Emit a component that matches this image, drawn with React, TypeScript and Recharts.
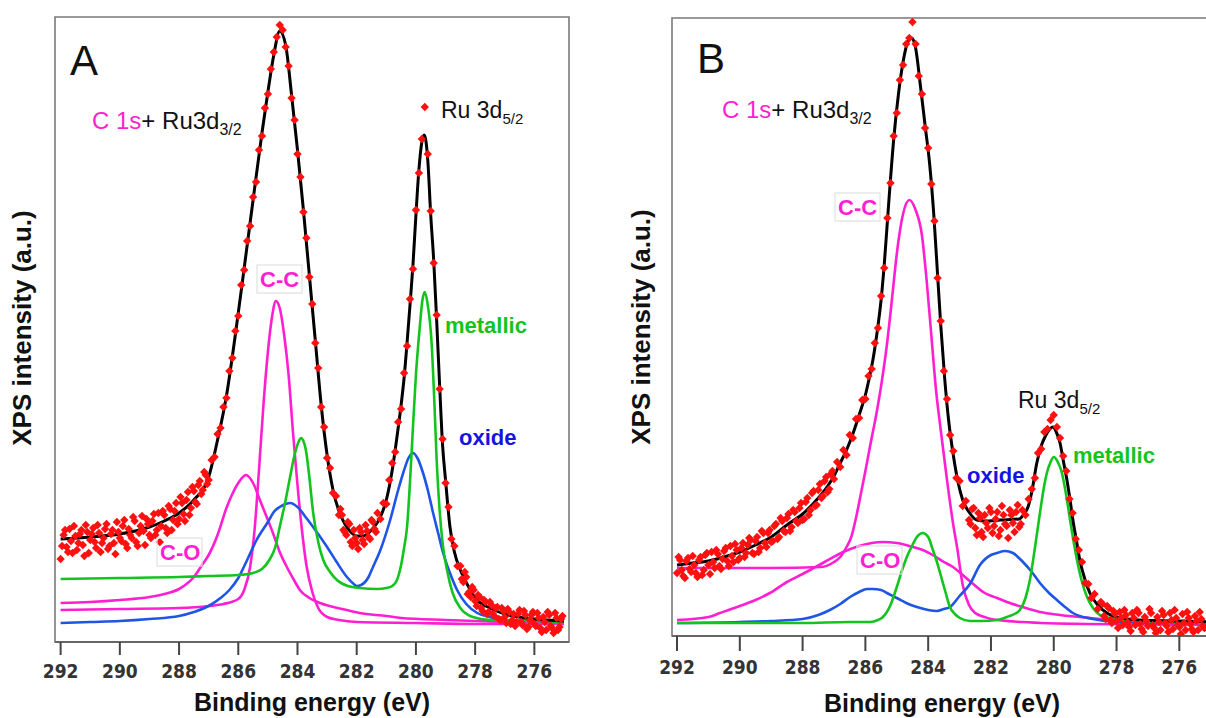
import React from 'react';
import {
  ComposedChart, Line, Scatter, XAxis, YAxis, ReferenceArea,
} from 'recharts';

// energies in eV, intensities in arbitrary units
const ticks = [292, 290, 288, 286, 284, 282, 280, 278, 276];

// ---------- panel A ----------
const rawA: [number, number][] = [
  [292.0, 83], [291.9, 107], [291.8, 95], [291.7, 113], [291.6, 89], [291.5, 106], [291.4, 99], [291.3, 112], [291.2, 86], [291.1, 110],
  [291.0, 102], [290.9, 114], [290.8, 94], [290.7, 109], [290.6, 99], [290.5, 113], [290.4, 93], [290.3, 108], [290.2, 99], [290.1, 120],
  [290.0, 104], [289.9, 116], [289.8, 98], [289.7, 113], [289.6, 104], [289.5, 121], [289.4, 96], [289.3, 116], [289.2, 111], [289.1, 123],
  [289.0, 107], [288.9, 121], [288.8, 107], [288.7, 129], [288.6, 116], [288.5, 127], [288.4, 109], [288.3, 133], [288.2, 122], [288.1, 139],
  [288.0, 123], [287.9, 139], [287.8, 121], [287.7, 150], [287.6, 134], [287.5, 151], [287.4, 138], [287.3, 161], [287.2, 152], [287.1, 167],
  [287.0, 162], [286.9, 182], [286.8, 185], [286.7, 208], [286.6, 214], [286.5, 235], [286.4, 244], [286.3, 271], [286.2, 284], [286.1, 311],
  [286.0, 326], [285.9, 357], [285.8, 372], [285.7, 401], [285.6, 416], [285.5, 445], [285.4, 460], [285.3, 492], [285.2, 506], [285.1, 534],
  [285.0, 548], [284.9, 573], [284.8, 590], [284.7, 605], [284.6, 617], [284.5, 612], [284.4, 595], [284.3, 576], [284.2, 544], [284.1, 522],
  [284.0, 488], [283.9, 465], [283.8, 430], [283.7, 404], [283.6, 365], [283.5, 338], [283.4, 299], [283.3, 274], [283.2, 235], [283.1, 215],
  [283.0, 184], [282.9, 174], [282.8, 149], [282.7, 146], [282.6, 127], [282.5, 127], [282.4, 110], [282.3, 120], [282.2, 100], [282.1, 112],
  [282.0, 99], [281.9, 114], [281.8, 102], [281.7, 117], [281.6, 105], [281.5, 122], [281.4, 113], [281.3, 129], [281.2, 123], [281.1, 139],
  [281.0, 138], [280.9, 162], [280.8, 179], [280.7, 190], [280.6, 220], [280.5, 233], [280.4, 269], [280.3, 296], [280.2, 343], [280.1, 373],
  [280.0, 432], [279.9, 469], [279.8, 503], [279.7, 535], [279.6, 488], [279.5, 431], [279.4, 379], [279.3, 327], [279.2, 253], [279.1, 203],
  [279.0, 159], [278.9, 135], [278.8, 103], [278.7, 96], [278.6, 76], [278.5, 76], [278.4, 60], [278.3, 65], [278.2, 50], [278.1, 55],
  [278.0, 41], [277.9, 47], [277.8, 34], [277.7, 42], [277.6, 28], [277.5, 40], [277.4, 28], [277.3, 34], [277.2, 23], [277.1, 34],
  [277.0, 25], [276.9, 33], [276.8, 18], [276.7, 28], [276.6, 20], [276.5, 32], [276.4, 17], [276.3, 27], [276.2, 15], [276.1, 27],
  [276.0, 18], [275.9, 29], [275.8, 14], [275.7, 25], [275.6, 12], [275.5, 27], [275.4, 14], [275.3, 29], [275.2, 12], [275.1, 23],
];

// extra readings in the noisy flat parts
const rawA2: [number, number][] = [
  [291.95, 96], [291.85, 112], [291.75, 90], [291.65, 101], [291.55, 116], [291.45, 92], [291.35, 108], [291.25, 97], [291.15, 117], [291.05, 89],
  [290.95, 108], [290.85, 100], [290.75, 117], [290.65, 90], [290.55, 104], [290.45, 118], [290.35, 96], [290.25, 112], [290.15, 88], [290.05, 110],
  [289.95, 101], [289.85, 122], [289.75, 94], [289.65, 107], [289.55, 125], [289.45, 100], [289.35, 109], [289.25, 126], [289.15, 97], [289.05, 118],
  [288.95, 104], [288.85, 128], [288.75, 112], [288.65, 100], [288.55, 131], [288.45, 114], [288.35, 136], [288.25, 112], [288.15, 131], [288.05, 118],
  [287.95, 145], [287.85, 128], [287.75, 142], [287.65, 127], [287.55, 155], [287.45, 140], [287.35, 157], [287.25, 148], [287.15, 170], [287.05, 158],
  [282.55, 133], [282.45, 112], [282.35, 107], [282.25, 118], [282.15, 96], [282.05, 104], [281.95, 93], [281.85, 110], [281.75, 98], [281.65, 111],
  [281.55, 103], [281.45, 120], [281.35, 110],
  [278.45, 63], [278.35, 70], [278.25, 48], [278.15, 45], [278.05, 52], [277.95, 36], [277.85, 45], [277.75, 31], [277.65, 40], [277.55, 30],
  [277.45, 37], [277.35, 26], [277.25, 35], [277.15, 22], [277.05, 31], [276.95, 19], [276.85, 30], [276.75, 22], [276.65, 16], [276.55, 28],
  [276.45, 20], [276.35, 31], [276.25, 13], [276.15, 22], [276.05, 30], [275.95, 16], [275.85, 24], [275.75, 10], [275.65, 20], [275.55, 30],
  [275.45, 16], [275.35, 9], [275.25, 24], [275.15, 15], [275.05, 26],
];

const fitA: [number, number][] = [
  [292.0, 103], [291.0, 105], [290.0, 108], [289.0, 115], [288.5, 121], [288.0, 129], [287.5, 142], [287.0, 165], [286.7, 202], [286.4, 246],
  [286.1, 307], [285.8, 374], [285.5, 442], [285.2, 509], [285.0, 550], [284.8, 587], [284.6, 611], [284.4, 597], [284.2, 547], [284.0, 492],
  [283.8, 432], [283.6, 367], [283.4, 302], [283.2, 237], [283.0, 187], [282.8, 152], [282.6, 131], [282.4, 118], [282.2, 110], [282.0, 106],
  [281.8, 106], [281.5, 112], [281.2, 125], [281.0, 142], [280.8, 172], [280.6, 214], [280.5, 237], [280.4, 264], [280.3, 299], [280.2, 337],
  [280.1, 377], [280.0, 427], [279.9, 472], [279.8, 500], [279.72, 507], [279.6, 482], [279.5, 427], [279.4, 382], [279.3, 322], [279.2, 257],
  [279.1, 197], [279.0, 162], [278.85, 115], [278.7, 90], [278.5, 72], [278.2, 54], [278.0, 44], [277.5, 34], [277.0, 28], [276.0, 23], [275.0, 21],
];

const ccA: [number, number][] = [
  [292, 32], [290, 33], [288, 34], [287, 36], [286.5, 38], [286.0, 43], [285.8, 52], [285.6, 75], [285.45, 112], [285.3, 172],
  [285.15, 237], [285.0, 290], [284.85, 327], [284.73, 341], [284.6, 334], [284.45, 307], [284.3, 267], [284.15, 209], [284.0, 157], [283.85, 112],
  [283.7, 77], [283.5, 50], [283.3, 34], [283.0, 25], [282.6, 22], [282.0, 20], [280.0, 19], [278.0, 18], [275.0, 18],
];

const coA: [number, number][] = [
  [292, 39], [291, 40], [290, 42], [289, 45], [288.5, 48], [288, 53], [287.5, 65], [287.2, 78], [287.0, 87], [286.7, 107],
  [286.4, 134], [286.2, 148], [286.0, 159], [285.74, 167], [285.5, 159], [285.27, 142], [285.0, 122], [284.83, 109], [284.6, 90], [284.36, 75],
  [284.1, 61], [283.92, 52], [283.6, 44], [283.24, 39], [282.5, 33], [281.9, 29], [281, 26], [280.5, 24], [279, 22], [277, 20], [275, 19],
];

const metalA: [number, number][] = [
  [292, 63], [290, 64], [288, 65], [287, 66], [286, 67], [285.5, 69], [285.2, 73], [284.95, 82], [284.75, 95], [284.6, 115],
  [284.4, 142], [284.25, 165], [284.1, 187], [283.95, 201], [283.88, 204], [283.8, 201], [283.7, 189], [283.6, 165], [283.47, 129], [283.3, 100],
  [283.13, 82], [282.9, 70], [282.67, 62], [282.3, 56], [281.9, 54], [281.3, 53], [281.0, 54], [280.8, 56], [280.64, 62], [280.5, 77],
  [280.4, 94], [280.3, 115], [280.2, 160], [280.1, 215], [280.0, 267], [279.87, 315], [279.78, 342], [279.7, 350], [279.6, 337], [279.47, 299],
  [279.38, 242], [279.3, 182], [279.2, 132], [279.1, 99], [278.95, 72], [278.76, 49], [278.5, 34], [278.08, 25], [277.5, 22], [276, 21], [275, 20],
];

const oxideA: [number, number][] = [
  [292, 19], [291, 20], [290, 21], [289, 23], [288, 26], [287.5, 30], [287, 36], [286.6, 44], [286.3, 52], [286.0, 64],
  [285.7, 82], [285.4, 101], [285.0, 120], [284.8, 130], [284.6, 135], [284.4, 138], [284.25, 139], [284.0, 135], [283.7, 124], [283.4, 112],
  [283.0, 95], [282.7, 81], [282.33, 65], [282.1, 58], [282.0, 56], [281.85, 57], [281.6, 65], [281.45, 75], [281.2, 92], [280.87, 122],
  [280.6, 152], [280.43, 169], [280.25, 184], [280.1, 189], [279.95, 184], [279.76, 169], [279.6, 152], [279.42, 129], [279.25, 109], [279.08, 89],
  [278.85, 69], [278.61, 52], [278.3, 38], [277.93, 29], [277.5, 25], [277.16, 22], [276, 21], [275, 20],
];

// ---------- panel B ----------
const rawB: [number, number][] = [
  [292.0, 63], [291.9, 76], [291.8, 60], [291.7, 75], [291.6, 67], [291.5, 80], [291.4, 63], [291.3, 76], [291.2, 61], [291.1, 81],
  [291.0, 71], [290.9, 84], [290.8, 68], [290.7, 82], [290.6, 67], [290.5, 85], [290.4, 75], [290.3, 90], [290.2, 74], [290.1, 86],
  [290.0, 78], [289.9, 93], [289.8, 83], [289.7, 98], [289.6, 83], [289.5, 95], [289.4, 84], [289.3, 105], [289.2, 93], [289.1, 103],
  [289.0, 94], [288.9, 110], [288.8, 97], [288.7, 118], [288.6, 105], [288.5, 118], [288.4, 105], [288.3, 126], [288.2, 115], [288.1, 128],
  [288.0, 116], [287.9, 134], [287.8, 121], [287.7, 143], [287.6, 130], [287.5, 146], [287.4, 138], [287.3, 155], [287.2, 144], [287.1, 162],
  [287.0, 157], [286.9, 174], [286.8, 169], [286.7, 186], [286.6, 181], [286.5, 201], [286.4, 198], [286.3, 217], [286.2, 218], [286.1, 236],
  [286.0, 237], [285.9, 260], [285.8, 267], [285.7, 293], [285.6, 308], [285.5, 340], [285.4, 368], [285.3, 418], [285.2, 453], [285.1, 500],
  [285.0, 523], [284.9, 556], [284.8, 571], [284.7, 592], [284.6, 598], [284.5, 614], [284.4, 592], [284.3, 560], [284.2, 542], [284.1, 508],
  [284.0, 488], [283.9, 452], [283.8, 415], [283.7, 358], [283.6, 315], [283.5, 265], [283.4, 237], [283.3, 201], [283.2, 185], [283.1, 158],
  [283.0, 155], [282.9, 130], [282.8, 135], [282.7, 116], [282.6, 127], [282.5, 108], [282.4, 123], [282.3, 104], [282.2, 121], [282.1, 108],
  [282.0, 124], [281.9, 110], [281.8, 124], [281.7, 106], [281.6, 121], [281.5, 110], [281.4, 126], [281.3, 113], [281.2, 124], [281.1, 109],
  [281.0, 126], [280.9, 121], [280.8, 137], [280.7, 147], [280.6, 158], [280.5, 183], [280.4, 187], [280.3, 204], [280.2, 207], [280.1, 216],
  [280.0, 221], [279.9, 209], [279.8, 198], [279.7, 180], [279.6, 165], [279.5, 137], [279.4, 123], [279.3, 97], [279.2, 86], [279.1, 74],
  [279.0, 53], [278.9, 52], [278.8, 38], [278.7, 42], [278.6, 27], [278.5, 34], [278.4, 20], [278.3, 30], [278.2, 16], [278.1, 25],
  [278.0, 15], [277.9, 24], [277.8, 11], [277.7, 21], [277.6, 9], [277.5, 23], [277.4, 11], [277.3, 23], [277.2, 7], [277.1, 19],
  [277.0, 10], [276.9, 23], [276.8, 8], [276.7, 19], [276.6, 6], [276.5, 21], [276.4, 10], [276.3, 23], [276.2, 7], [276.1, 18],
  [276.0, 9], [275.9, 22], [275.8, 6], [275.7, 18], [275.6, 7], [275.5, 20], [275.4, 6], [275.3, 17], [275.2, 8],
];

const rawB2: [number, number][] = [
  [291.95, 79], [291.85, 66], [291.75, 58], [291.65, 78], [291.55, 64], [291.45, 71], [291.35, 59], [291.25, 79], [291.15, 66], [291.05, 83],
  [290.95, 62], [290.85, 74], [290.75, 86], [290.65, 70], [290.55, 77], [290.45, 88], [290.35, 70], [290.25, 80], [290.15, 92], [290.05, 76],
  [289.95, 88], [289.85, 79], [289.75, 91], [289.65, 96], [289.55, 82], [289.45, 99], [289.35, 88], [289.25, 103], [289.15, 89], [289.05, 106],
  [288.95, 95], [288.85, 112], [288.75, 99], [288.65, 115], [288.55, 104], [288.45, 122], [288.35, 109], [288.25, 124], [288.15, 113], [288.05, 133],
  [287.95, 117], [287.85, 138], [287.75, 126], [287.65, 145], [287.55, 131], [287.45, 152], [287.35, 140], [287.25, 159], [287.15, 147], [287.05, 165],
  [282.65, 112], [282.55, 128], [282.45, 101], [282.35, 118], [282.25, 99], [282.15, 113], [282.05, 128], [281.95, 103], [281.85, 117], [281.75, 100],
  [281.65, 130], [281.55, 112], [281.45, 98], [281.35, 121], [281.25, 104], [281.15, 131], [281.05, 112],
  [278.45, 32], [278.35, 17], [278.25, 28], [278.15, 13], [278.05, 22], [277.95, 8], [277.85, 18], [277.75, 26], [277.65, 14], [277.55, 5],
  [277.45, 18], [277.35, 26], [277.25, 12], [277.15, 4], [277.05, 15], [276.95, 27], [276.85, 11], [276.75, 3], [276.65, 14], [276.55, 25],
  [276.45, 13], [276.35, 4], [276.25, 16], [276.15, 26], [276.05, 11], [275.95, 2], [275.85, 13], [275.75, 24], [275.65, 12], [275.55, 4],
  [275.45, 15], [275.35, 24], [275.25, 10],
];

const fitB: [number, number][] = [
  [292, 71], [291.5, 73], [291, 75], [290.5, 79], [290, 84], [289.5, 91], [289, 99], [288.5, 111], [288, 122], [287.5, 138],
  [287.2, 150], [287, 160], [286.8, 173], [286.6, 186], [286.4, 202], [286.2, 221], [286.0, 241], [285.89, 256], [285.75, 278], [285.63, 303],
  [285.5, 336], [285.4, 371], [285.25, 436], [285.1, 496], [284.95, 541], [284.8, 574], [284.65, 594], [284.52, 598], [284.4, 588], [284.25, 551],
  [284.1, 511], [283.95, 471], [283.82, 421], [283.7, 361], [283.6, 311], [283.47, 256], [283.35, 216], [283.2, 181], [283.05, 154], [282.9, 136],
  [282.7, 124], [282.45, 116], [282.2, 115], [281.7, 116], [281.1, 117], [280.95, 122], [280.82, 129], [280.7, 144], [280.54, 173], [280.4, 190],
  [280.28, 199], [280.15, 206], [280.03, 209], [279.92, 204], [279.8, 193], [279.7, 176], [279.58, 156], [279.48, 136], [279.39, 116], [279.28, 96],
  [279.17, 76], [279.0, 56], [278.85, 43], [278.6, 31], [278.31, 23], [278.0, 19], [277.3, 16], [276, 15], [275, 14],
];

const ccB: [number, number][] = [
  [292, 68], [289, 68], [287.4, 69], [287.0, 74], [286.8, 79], [286.6, 89], [286.45, 99], [286.3, 118], [286.17, 138], [286.0, 165],
  [285.85, 190], [285.65, 222], [285.47, 256], [285.3, 295], [285.2, 323], [285.1, 353], [285.0, 382], [284.9, 405], [284.8, 422], [284.6, 436],
  [284.4, 426], [284.2, 401], [284.05, 356], [283.9, 301], [283.75, 246], [283.6, 206], [283.4, 156], [283.2, 111], [283.08, 89], [282.9, 51],
  [282.7, 31], [282.5, 23], [282.2, 19], [282.0, 17], [281.0, 14], [279.0, 12], [275.0, 11],
];

const coB: [number, number][] = [
  [292, 16], [291, 19], [290.63, 23], [290, 30], [289.5, 36], [289.04, 43], [288.5, 54], [288, 62], [287.76, 66], [287.3, 74],
  [286.71, 84], [286.2, 90], [285.8, 93], [285.44, 94], [285.0, 93], [284.6, 90], [284.17, 86], [283.8, 80], [283.5, 74], [283.21, 69],
  [282.9, 61], [282.6, 53], [282.2, 43], [281.8, 38], [281.49, 34], [281.0, 29], [280.44, 24], [279.8, 21], [278.85, 18], [278, 16],
  [277, 15], [276, 14], [275, 13],
];

const metalB: [number, number][] = [
  [292, 13], [288, 13], [286.5, 14], [285.85, 14], [285.6, 16], [285.44, 19], [285.2, 31], [285.0, 49], [284.85, 64], [284.68, 79],
  [284.5, 91], [284.36, 99], [284.17, 103], [284.0, 99], [283.85, 86], [283.72, 74], [283.62, 63], [283.45, 44], [283.31, 29], [283.15, 22],
  [282.99, 18], [282.67, 15], [282.3, 15], [281.8, 16], [281.49, 19], [281.25, 22], [281.08, 26], [280.9, 38], [280.76, 56], [280.6, 88],
  [280.44, 123], [280.3, 151], [280.22, 163], [280.1, 174], [280.0, 179], [279.87, 174], [279.74, 163], [279.6, 140], [279.48, 116], [279.36, 93],
  [279.26, 76], [279.1, 54], [278.94, 39], [278.75, 28], [278.53, 21], [278.2, 18], [277.8, 16], [276.5, 14], [275, 13],
];

const oxideB: [number, number][] = [
  [292, 13], [290, 14], [289, 15], [288, 17], [287.5, 21], [287.13, 26], [286.8, 32], [286.49, 39], [286.2, 44], [285.95, 47],
  [285.76, 47], [285.5, 46], [285.25, 42], [285.0, 38], [284.7, 33], [284.36, 29], [284.0, 26], [283.72, 25], [283.5, 27], [283.3, 29],
  [283.0, 40], [282.67, 52], [282.35, 71], [282.0, 81], [281.81, 83], [281.55, 85], [281.3, 83], [280.98, 74], [280.7, 64], [280.44, 53],
  [280.15, 43], [279.9, 36], [279.6, 28], [279.39, 23], [278.75, 17], [278, 14], [276, 13], [275, 13],
];

const MAGENTA = '#ff1fd2';
const GREEN = '#14c41e';
const BLUE = '#1f55e6';
const RED = '#ff1010';

const pts = (rows: [number, number][]) => rows.map(([e, i]) => ({ e, i }));

function Diamond(props: any) {
  const { cx, cy } = props;
  if (cx == null || cy == null) return null;
  const r = 4.2;
  return (
    <polygon
      points={`${cx},${cy - r} ${cx + r},${cy} ${cx},${cy + r} ${cx - r},${cy}`}
      fill={RED}
    />
  );
}

const tickStyle = {
  fill: '#333',
  fontSize: 19,
  fontWeight: 700,
  fontFamily: '"Liberation Sans Narrow", "DejaVu Sans Condensed", "Arial Narrow", sans-serif',
};

interface PanelProps {
  width: number;
  margin: { top: number; right: number; bottom: number; left: number };
  domain: [number, number];
  yMax: number;
  tickSize: number;
  raw: [number, number][];
  raw2: [number, number][];
  fit: [number, number][];
  cc: [number, number][];
  co: [number, number][];
  metal: [number, number][];
  oxide: [number, number][];
}

function Panel(p: PanelProps) {
  const comp = (rows: [number, number][], color: string, key: string) => (
    <Line
      key={key}
      data={pts(rows)}
      dataKey="i"
      type="monotone"
      stroke={color}
      strokeWidth={2.6}
      dot={false}
      activeDot={false}
      isAnimationActive={false}
    />
  );
  return (
    <ComposedChart width={p.width} height={718} margin={p.margin}>
      <XAxis
        type="number"
        dataKey="e"
        domain={p.domain}
        reversed
        allowDataOverflow
        ticks={ticks}
        interval={0}
        height={40}
        tickSize={p.tickSize}
        tickMargin={10}
        tick={tickStyle}
        tickLine={{ stroke: '#444', strokeWidth: 2 }}
        axisLine={{ stroke: '#666', strokeWidth: 2 }}
      />
      <YAxis hide type="number" dataKey="i" domain={[0, p.yMax]} allowDataOverflow />
      <ReferenceArea
        x1={p.domain[0]}
        x2={p.domain[1]}
        y1={0}
        y2={p.yMax}
        fill="none"
        fillOpacity={0}
        stroke="#7a7a7a"
        strokeWidth={1.6}
      />
      {comp(p.co, MAGENTA, 'co')}
      {comp(p.cc, MAGENTA, 'cc')}
      {comp(p.oxide, BLUE, 'ox')}
      {comp(p.metal, GREEN, 'mt')}
      <Scatter data={pts(p.raw)} dataKey="i" shape={Diamond} isAnimationActive={false} />
      <Scatter data={pts(p.raw2)} dataKey="i" shape={Diamond} isAnimationActive={false} />
      <Line
        data={pts(p.fit)}
        dataKey="i"
        type="monotone"
        stroke="#000"
        strokeWidth={3}
        dot={false}
        activeDot={false}
        isAnimationActive={false}
      />
    </ComposedChart>
  );
}

const SANS = '"Liberation Sans", Arial, sans-serif';

function Sub({ x, y, main, sub, color = '#111', fs = 23 }: { x: number; y: number; main: string; sub: string; color?: string; fs?: number }) {
  return (
    <text x={x} y={y} fontSize={fs} fill={color} fontFamily={SANS}>
      {main}
      <tspan fontSize={15} dy={6}>{sub}</tspan>
    </text>
  );
}

function C1s({ x, y }: { x: number; y: number }) {
  return (
    <text x={x} y={y} fontSize={24} fontFamily={SANS} fill="#111">
      <tspan fill={MAGENTA}>C 1s</tspan>
      <tspan>+ Ru3d</tspan>
      <tspan fontSize={16} dy={6}>3/2</tspan>
    </text>
  );
}

function Tag({ x, y, text, color, box }: { x: number; y: number; text: string; color: string; box?: boolean }) {
  return (
    <g>
      {box && (
        <rect x={x - 3} y={y - 22} width={text.length * 14 + 3} height={28} fill="none" stroke="#e2e2e2" strokeWidth={1.2} />
      )}
      <text x={x} y={y} fontSize={22} fontWeight={700} fill={color} fontFamily={SANS}>{text}</text>
    </g>
  );
}

export default function App() {
  return (
    <div style={{ position: 'absolute', left: 0, top: 0, width: 1206, height: 718, overflow: 'hidden', background: '#fff' }}>
      <div style={{ position: 'absolute', left: 0, top: 0 }}>
        <Panel
          width={600}
          margin={{ top: 17, right: 31, bottom: 36, left: 55 }}
          domain={[274.83, 292.19]}
          yMax={625}
          tickSize={13}
          raw={rawA}
          raw2={rawA2}
          fit={fitA}
          cc={ccA}
          co={coA}
          metal={metalA}
          oxide={oxideA}
        />
      </div>
      <div style={{ position: 'absolute', left: 600, top: 0 }}>
        <Panel
          width={640}
          margin={{ top: 18, right: 23, bottom: 42, left: 72 }}
          domain={[274.8, 292.16]}
          yMax={618}
          tickSize={15}
          raw={rawB}
          raw2={rawB2}
          fit={fitB}
          cc={ccB}
          co={coB}
          metal={metalB}
          oxide={oxideB}
        />
      </div>
      <svg
        width={1206}
        height={718}
        style={{ position: 'absolute', left: 0, top: 0, pointerEvents: 'none' }}
      >
        {/* panel A */}
        <text x={70} y={75} fontSize={42} fontFamily={SANS} fill="#111">A</text>
        <C1s x={92} y={129} />
        <Sub x={441} y={118} main="Ru 3d" sub="5/2" />
        <Tag x={260} y={287} text="C-C" color={MAGENTA} box />
        <Tag x={445} y={333} text="metallic" color={GREEN} />
        <Tag x={459} y={445} text="oxide" color="#1414e0" />
        <Tag x={160} y={560} text="C-O" color={MAGENTA} box />
        <text x={312} y={711} textAnchor="middle" fontSize={25} fontWeight={700} fontFamily={SANS} fill="#111">
          Binding energy (eV)
        </text>
        <text transform="translate(31,328) rotate(-90)" textAnchor="middle" fontSize={26} fontWeight={700} fontFamily={SANS} fill="#111">
          XPS intensity (a.u.)
        </text>

        {/* panel B */}
        <text x={697} y={73} fontSize={42} fontFamily={SANS} fill="#111">B</text>
        <C1s x={722} y={118} />
        <Tag x={838} y={215} text="C-C" color={MAGENTA} box />
        <Sub x={1018} y={408} main="Ru 3d" sub="5/2" />
        <Tag x={1073} y={463} text="metallic" color={GREEN} />
        <Tag x={967} y={483} text="oxide" color="#1414e0" />
        <Tag x={860} y={568} text="C-O" color={MAGENTA} box />
        <text x={942} y={712} textAnchor="middle" fontSize={25} fontWeight={700} fontFamily={SANS} fill="#111">
          Binding energy (eV)
        </text>
        <text transform="translate(650,327) rotate(-90)" textAnchor="middle" fontSize={26} fontWeight={700} fontFamily={SANS} fill="#111">
          XPS intensity (a.u.)
        </text>
      </svg>
    </div>
  );
}
